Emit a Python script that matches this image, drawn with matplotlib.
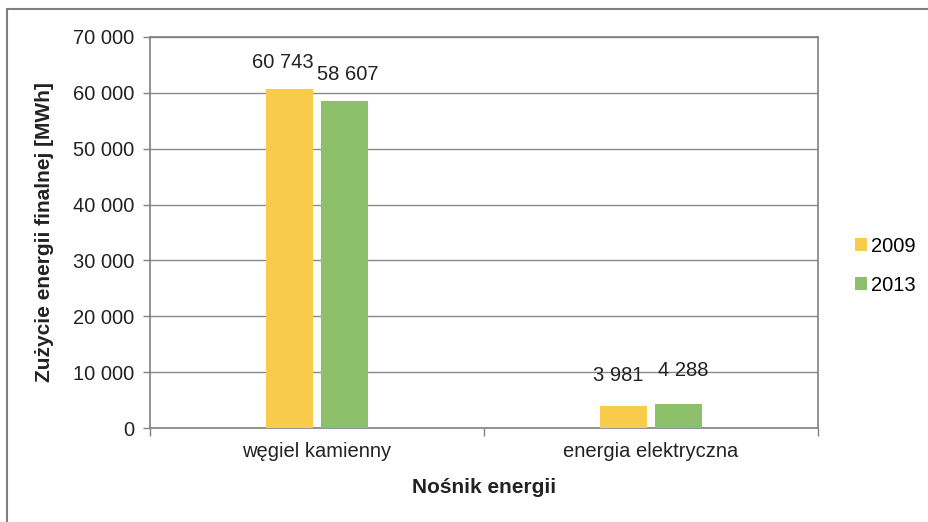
import matplotlib
matplotlib.use("Agg")
import matplotlib.pyplot as plt
from matplotlib.patches import Rectangle
from matplotlib.ticker import FuncFormatter, FixedLocator
import numpy as np

plt.rcParams['font.family'] = ['Liberation Sans', 'DejaVu Sans']

categories = ["węgiel kamienny", "energia elektryczna"]
series_names = ["2009", "2013"]
values_2009 = [60743, 3981]
values_2013 = [58607, 4288]
colors = ["#F8CB4A", "#8DC06B"]
label_offsets_2009 = [(-5, 19), (-4, 22)]
label_offsets_2013 = [(3, 19), (4, 24)]

fig = plt.figure(figsize=(9.29, 5.22), dpi=100)
ax = fig.add_axes([150/929, 1-428/522, (818-150)/929, (428-37)/522])

x = np.arange(len(categories))
w = 0.141
off = 0.081
b1 = ax.bar(x - off, values_2009, w, color=colors[0], label=series_names[0], zorder=3)
b2 = ax.bar(x + off, values_2013, w, color=colors[1], label=series_names[1], zorder=3)

def fmt(v):
    return f"{int(v):,}".replace(",", " ")

for bars, vals, offs in ((b1, values_2009, label_offsets_2009), (b2, values_2013, label_offsets_2013)):
    for rect, v, o in zip(bars, vals, offs):
        ax.annotate(fmt(v), (rect.get_x() + rect.get_width()/2, v),
                    xytext=o, textcoords="offset points",
                    ha="center", va="center", fontsize=14.5, color="#222222", zorder=4)

ax.set_xlim(-0.5, 1.5)
ax.set_ylim(0, 70000)
ax.set_yticks(np.arange(0, 70001, 10000))
ax.yaxis.set_major_formatter(FuncFormatter(lambda v, p: fmt(v)))
ax.set_xticks(x)
ax.set_xticklabels(categories)
ax.xaxis.set_minor_locator(FixedLocator([-0.5, 0.5, 1.5]))
ax.tick_params(axis='x', which='major', length=0, labelsize=14.5, pad=10, labelcolor="#222222")
ax.tick_params(axis='x', which='minor', length=6, color="#808080", width=1)
ax.tick_params(axis='y', which='major', length=5, color="#808080", width=1, labelsize=14.5, pad=6, labelcolor="#222222")
ax.grid(axis='y', color="#8a8a8a", lw=1, zorder=0)
for s in ax.spines.values():
    s.set_color("#808080")
    s.set_linewidth(1.2)

ax.set_ylabel("Zużycie energii finalnej [MWh]", fontsize=15, fontweight='bold', color="#222222", labelpad=14)
ax.set_xlabel("Nośnik energii", fontsize=15, fontweight='bold', color="#222222", labelpad=12)

ax.legend(loc='center left', bbox_to_anchor=(1.028, 0.415), frameon=False, fontsize=14.5,
          handlelength=0.6, handleheight=0.6, handletextpad=0.2, labelspacing=1.0)

fig.patches.append(Rectangle((7/929, -0.1), 2, 1.1 - 9/522, transform=fig.transFigure,
                             fill=False, edgecolor="#808080", lw=1.5))

fig.savefig("out.png", dpi=100)
